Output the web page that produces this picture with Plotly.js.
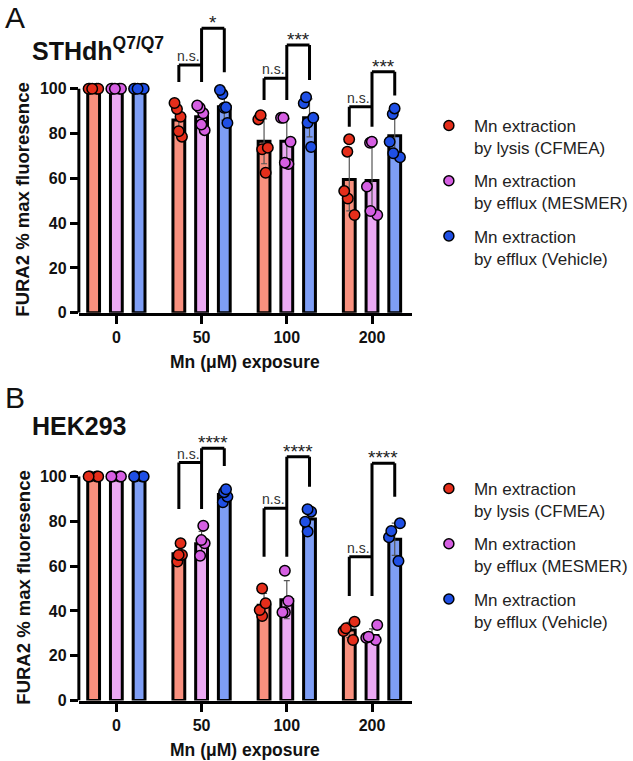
<!DOCTYPE html>
<html>
<head>
<meta charset="utf-8">
<script src="https://cdn.plot.ly/plotly-3.0.1.min.js"></script>
<style>
  html, body { margin: 0; padding: 0; background: #fff; }
  #chart { width: 633px; height: 761px; }
</style>
</head>
<body>
<div id="chart"></div>
<script>
const categories = ["0", "50", "100", "200"];
const seriesNames = [
  "Mn extraction<br>by lysis (CFMEA)",
  "Mn extraction<br>by efflux (MESMER)",
  "Mn extraction<br>by efflux (Vehicle)",
];
const barColors = ["#F8907E", "#EBA9F3", "#7E9EF5"];
const dotColors = ["#E52E1B", "#D55FE2", "#1F4FE4"];

// panel A: STHdh Q7/Q7, one array of points per dose
const lysisPtsA = [[100, 100, 100, 100, 100], [93.6, 91, 87.5, 81, 78.6], [88.2, 86.3, 73.7, 73, 62.5], [77.4, 71.9, 54.3, 51, 43.6]];
const mesmerPtsA = [[100, 100, 100, 100, 100], [92.5, 91.5, 89, 84, 81.5], [87, 87, 76.3, 67, 66.4], [76.3, 75.9, 56.3, 45.4, 43.6]];
const vehiclePtsA = [[100, 100, 100, 100, 100], [99.4, 97.6, 91.7, 91.5, 84.7], [96.2, 93.5, 87, 84.8, 74], [91.2, 88.7, 76.3, 69.4, 71.2]];
const lysisMeanA = [100, 86, 76.5, 59.5];
const mesmerMeanA = [100, 87.5, 76.5, 59];
const vehicleMeanA = [100, 92, 87, 79];
const lysisSdA = [0, 6, 10, 14];
const mesmerSdA = [0, 4.5, 10, 15];
const vehicleSdA = [0, 6, 8.5, 9.5];
// brackets for doses 50, 100, 200
const nsBarA = [110.6, 104.7, 92];
const nsLegA = [103, 95, 83];
const sigBarA = [127, 119.5, 107.6];
const sigLegA = [107.4, 103.9, 97];
const sigTextA = ["*", "***", "***"];

// panel B: HEK293
const lysisPtsB = [[100, 100, 100, 100], [70.2, 65, 65, 62], [50, 43.4, 40.4, 37.7], [35.2, 32.2, 31, 27]];
const mesmerPtsB = [[100, 100, 100, 100], [78, 71.6, 70.2, 64.6], [57.9, 44.4, 39.4, 39.4], [33.7, 28.5, 27, 28]];
const vehiclePtsB = [[100, 100, 100, 100], [94.3, 93, 91, 88.5], [84.3, 85.4, 79.8, 75.4], [79.1, 75.7, 72.9, 62.3]];
const lysisMeanB = [100, 65.5, 42.5, 31.5];
const mesmerMeanB = [100, 70, 45, 29];
const vehicleMeanB = [100, 92, 81, 72];
const lysisSdB = [0, 3.4, 5.3, 3.4];
const mesmerSdB = [0, 5.5, 8.5, 3];
const vehicleSdB = [0, 2.5, 4.3, 7.2];
const nsBarB = [106.2, 85.8, 64.2];
const nsLegB = [85.5, 64.2, 46.6];
const sigBarB = [112.6, 108.8, 105.9];
const sigLegB = [104.7, 95.4, 91];
const sigTextB = ["****", "****", "****"];

const FONT = "Liberation Sans, Arial, sans-serif";
const bargap = 0.2;
const groupgap = 0.48;
const offs = [0, 1, 2].map((i) => (i - 1) * (1 - bargap) / 3);

const traces = [];
const shapes = [];
const annotations = [];

function addPanel(pts, means, sds, br, xa, ya, legendId) {
  const ax = xa === "x" ? "x" : "x2";
  const ay = ya === "y" ? "y" : "y2";
  means.forEach((m, i) => {
    traces.push({
      type: "bar", x: categories, y: m, xaxis: ax, yaxis: ay,
      offsetgroup: "s" + i, alignmentgroup: "g" + ax,
      marker: { color: barColors[i], line: { color: "#000", width: 3 } },
      error_y: { type: "data", array: sds[i], visible: true, color: "#555", thickness: 1.2, width: 3 },
      showlegend: false, hoverinfo: "y",
    });
  });
  pts.forEach((groups, i) => {
    const xs = [];
    const ys = [];
    groups.forEach((vals, g) => vals.forEach((v) => { xs.push(categories[g]); ys.push(v); }));
    traces.push({
      type: "box", x: xs, y: ys, xaxis: ax, yaxis: ay,
      offsetgroup: "s" + i, alignmentgroup: "g" + ax,
      boxpoints: "all", jitter: 1, pointpos: 0,
      fillcolor: "rgba(0,0,0,0)", line: { width: 0, color: "rgba(0,0,0,0)" },
      marker: { color: dotColors[i], size: 10.5, line: { color: "#000", width: 1.5 } },
      showlegend: false, hoverinfo: "y",
    });
  });
  // legend entries
  seriesNames.forEach((n, i) => {
    traces.push({
      type: "scatter", mode: "markers", x: [null], y: [null], xaxis: ax, yaxis: ay,
      name: n, legend: legendId, legendgroup: legendId + i,
      marker: { color: dotColors[i], size: 10, line: { color: "#000", width: 1.5 } },
    });
  });
  // significance brackets
  br.nsBar.forEach((nb, k) => {
    const c = k + 1;
    const xr = c + offs[0], xp = c + offs[1], xb = c + offs[2];
    const ln = (x0, y0, x1, y1) => shapes.push({
      type: "line", xref: ax, yref: ay, x0, y0, x1, y1, line: { color: "#000", width: 3 },
    });
    ln(xr, br.nsLeg[k], xr, nb);
    ln(xr, nb, xp, nb);
    ln(xp, br.nsLeg[k], xp, br.sigBar[k]);
    ln(xp, br.sigBar[k], xb, br.sigBar[k]);
    ln(xb, br.sigLeg[k], xb, br.sigBar[k]);
    annotations.push({
      xref: ax, yref: ay, x: (xr + xp) / 2, y: nb, yanchor: "bottom", showarrow: false,
      text: "n.s.", font: { family: FONT, size: 14, color: "#333" }, xshift: -2, yshift: -1,
    });
    annotations.push({
      xref: ax, yref: ay, x: (xp + xb) / 2, y: br.sigBar[k], yanchor: "bottom", showarrow: false,
      text: br.sigText[k], font: { family: FONT, size: 19, color: "#222" }, yshift: -7,
    });
  });
}

addPanel(
  [lysisPtsA, mesmerPtsA, vehiclePtsA],
  [lysisMeanA, mesmerMeanA, vehicleMeanA],
  [lysisSdA, mesmerSdA, vehicleSdA],
  { nsBar: nsBarA, nsLeg: nsLegA, sigBar: sigBarA, sigLeg: sigLegA, sigText: sigTextA },
  "x", "y", "legend"
);
addPanel(
  [lysisPtsB, mesmerPtsB, vehiclePtsB],
  [lysisMeanB, mesmerMeanB, vehicleMeanB],
  [lysisSdB, mesmerSdB, vehicleSdB],
  { nsBar: nsBarB, nsLeg: nsLegB, sigBar: sigBarB, sigLeg: sigLegB, sigText: sigTextB },
  "x2", "y2", "legend2"
);

const xDom = [80 / 633, 418 / 633];
const yDomA = [0.5891, 0.9717];
const yDomB = [0.0795, 0.418];

// y axis lines only up to 100
["y", "y2"].forEach((ay) => {
  shapes.push({
    type: "line", xref: "paper", yref: ay, x0: xDom[0], x1: xDom[0], y0: 0, y1: 100,
    line: { color: "#000", width: 3 },
  });
});

const txt = (text, x, y, size, weight, extra) => Object.assign({
  xref: "paper", yref: "paper", x: x / 633, y: 1 - y / 761, text, showarrow: false,
  xanchor: "left", yanchor: "middle", font: { family: FONT, size, color: "#111", weight },
}, extra || {});

annotations.push(
  txt("A", 3, 17, 30, "normal"),
  txt("STHdh<sup>Q7/Q7</sup>", 30, 49, 25, "bold"),
  txt("B", 3, 397, 30, "normal"),
  txt("HEK293", 30, 426, 25, "bold"),
  txt("FURA2 % max fluoresence", 23, 200, 18.5, "bold", { xanchor: "center", textangle: -90 }),
  txt("FURA2 % max fluoresence", 23, 588, 18.5, "bold", { xanchor: "center", textangle: -90 }),
  txt("Mn (\u03bcM) exposure", 249, 362, 17.5, "bold", { xanchor: "center" }),
  txt("Mn (\u03bcM) exposure", 249, 750, 17.5, "bold", { xanchor: "center" })
);

const xAxis = (anchor) => ({
  anchor, domain: xDom, type: "category", categoryorder: "array", categoryarray: categories,
  range: [-0.44, 3.47], showline: true, linewidth: 3, linecolor: "#000",
  ticks: "outside", ticklen: 8, tickwidth: 3, tickcolor: "#000",
  tickfont: { family: FONT, size: 16, weight: "bold", color: "#111" },
  showgrid: false, zeroline: false, fixedrange: true,
});
const yAxis = (anchor, domain, range) => ({
  anchor, domain, range, tickvals: [0, 20, 40, 60, 80, 100], showline: false,
  ticks: "outside", ticklen: 8, tickwidth: 3, tickcolor: "#000",
  tickfont: { family: FONT, size: 16, weight: "bold", color: "#111" },
  showgrid: false, zeroline: false, fixedrange: true,
});
const legendOpts = (y) => ({
  x: 430 / 633, y: 1 - y / 761, xanchor: "left", yanchor: "top",
  font: { family: FONT, size: 17, color: "#222" }, valign: "top",
  traceorder: "grouped", tracegroupgap: 8, itemwidth: 40, bgcolor: "rgba(0,0,0,0)",
});

Plotly.newPlot("chart", traces, {
  width: 633, height: 761,
  margin: { l: 0, r: 0, t: 0, b: 0 },
  paper_bgcolor: "#fff", plot_bgcolor: "rgba(0,0,0,0)",
  barmode: "group", bargap: bargap, bargroupgap: groupgap,
  boxmode: "group", boxgap: bargap, boxgroupgap: groupgap,
  xaxis: xAxis("y"), yaxis: yAxis("x", yDomA, [0, 130]),
  xaxis2: xAxis("y2"), yaxis2: yAxis("x2", yDomB, [0, 115]),
  legend: legendOpts(108), legend2: legendOpts(471),
  shapes, annotations, showlegend: true,
}, { displayModeBar: false, staticPlot: true });
</script>
</body>
</html>
